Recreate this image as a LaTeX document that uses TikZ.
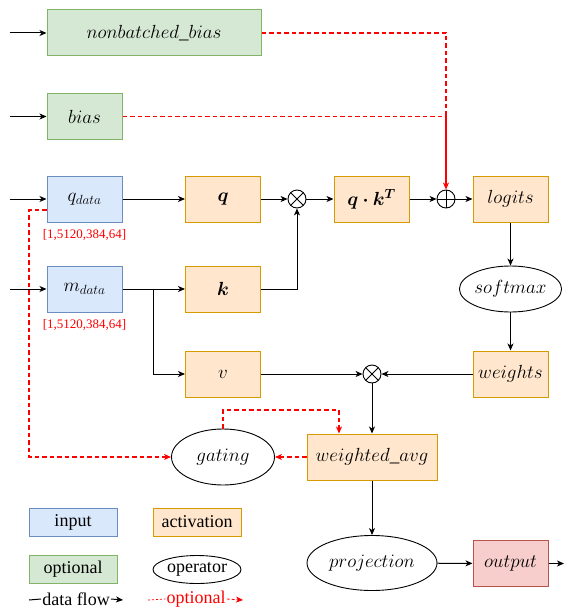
\RequirePackage{fix-cm}
\documentclass[tikz,border=0pt]{standalone}
\usepackage{amsmath}
\usepackage{bm}
\usepackage{fontspec}
\setmainfont{Liberation Serif}
\usepackage{tikz}
\usetikzlibrary{arrows,arrows.meta,positioning,calc,shapes}
\definecolor{inputfill}{HTML}{DAE8FC}
\definecolor{inputdraw}{HTML}{6C8EBF}
\definecolor{actfill}{HTML}{FFE6CC}
\definecolor{actdraw}{HTML}{D79B00}
\definecolor{optfill}{HTML}{D5E8D4}
\definecolor{optdraw}{HTML}{82B366}
\definecolor{outfill}{HTML}{F8CECC}
\definecolor{outdraw}{HTML}{B85450}

\begin{document}
\begin{tikzpicture}[x=1pt,y=-1pt,>={Stealth[length=7pt,width=6pt,inset=2pt]},
	box/.style={draw,rectangle,minimum width=75pt,minimum height=46pt,inner sep=0pt,line width=1pt,font=\fontsize{19}{23}\selectfont},
	inbox/.style={box,draw=inputdraw,fill=inputfill},
	actbox/.style={box,draw=actdraw,fill=actfill},
	optbox/.style={box,draw=optdraw,fill=optfill},
	outbox/.style={box,draw=outdraw,fill=outfill},
	opnode/.style={draw,ellipse,minimum width=100pt,minimum height=46pt,inner sep=0pt,line width=0.9pt,font=\fontsize{19}{23}\selectfont},
	mulop/.style={draw,circle,minimum size=18pt,inner sep=0pt,line width=0.9pt,path picture={\draw (path picture bounding box.north west) -- (path picture bounding box.south east) (path picture bounding box.north east) -- (path picture bounding box.south west);}},
	addop/.style={draw,circle,minimum size=18pt,inner sep=0pt,line width=0.9pt,path picture={\draw (path picture bounding box.north) -- (path picture bounding box.south) (path picture bounding box.east) -- (path picture bounding box.west);}},
	flow/.style={->,line width=1pt},
	opt/.style={->,red,line width=1.3pt,dash pattern=on 4.5pt off 3pt},
	optline/.style={red,line width=1.3pt,dash pattern=on 4.5pt off 3pt},
	dimlabel/.style={red,inner sep=1pt,font=\fontsize{13}{15}\selectfont},
	legend/.style={minimum width=88pt,minimum height=28pt,font=\fontsize{18}{21}\selectfont}]
	\useasboundingbox (0,0) rectangle (565,610);

	\node[optbox,minimum width=214pt] (nbias) at (154,33) {$nonbatched\_bias$};
	\node[optbox] (bias) at (84.5,116.5) {$bias$};
	\node[inbox] (qdata) at (84.5,199) {$q_{data}$};
	\node[dimlabel,below=6pt of qdata] (qdim) {[1,5120,384,64]};
	\node[inbox] (mdata) at (84.5,289) {$m_{data}$};
	\node[dimlabel,below=6pt of mdata] (mdim) {[1,5120,384,64]};
	\foreach \n in {nbias,bias,qdata,mdata} {
		\coordinate[left=37pt of \n.west] (src-\n);
		\draw[flow] (src-\n) -- (\n);
	}

	\node[actbox] (q) at (223,199) {$\bm{q}$};
	\node[actbox] (k) at (223,289) {$\bm{k}$};
	\node[actbox] (v) at (223,374) {$v$};
	\node[mulop] (mul1) at (297,199) {};
	\node[actbox] (qk) at (371.5,199) {$\bm{q\cdot k^T}$};
	\node[addop] (add) at (446,199) {};
	\node[actbox] (logits) at (510.5,199) {$logits$};
	\node[opnode] (softmax) at (510.5,289) {$softmax$};
	\node[actbox] (weights) at (510.5,374) {$weights$};
	\node[mulop] (mul2) at (372,374) {};
	\node[actbox,minimum width=130pt] (wavg) at (372,457) {$weighted\_avg$};
	\node[opnode,minimum width=103pt,minimum height=56pt] (gating) at (223,457) {$gating$};
	\node[opnode,minimum width=130pt,minimum height=55pt] (proj) at (372,563) {$projection$};
	\node[outbox] (output) at (510.5,563.5) {$output$};
	\coordinate (sink) at (564,563.5);

	\draw[flow] (qdata) -- (q);
	\draw[flow] (q) -- (mul1);
	\draw[flow] (mdata) -- (k);
	\coordinate (split) at ($(mdata.east)!0.5!(k.west)$);
	\draw[flow] (split) |- (v);
	\draw[flow] (k) -| (mul1);
	\draw[flow] (mul1) -- (qk);
	\draw[flow] (qk) -- (add);
	\draw[flow] (add) -- (logits);
	\draw[flow] (logits) -- (softmax);
	\draw[flow] (softmax) -- (weights);
	\draw[flow] (weights) -- (mul2);
	\draw[flow] (v) -- (mul2);
	\draw[flow] (mul2) -- (wavg);
	\draw[flow] (wavg) -- (proj);
	\draw[flow] (proj) -- (output);
	\draw[flow] (output) -- (sink);

	\draw[optline] (bias) -| (add);
	\draw[opt] (nbias) -| (add);
	\coordinate (qtap) at ([yshift=-11pt]qdata.west);
	\coordinate (gbend) at (29,210);
	\draw[opt] (qtap) -- (gbend) |- (gating);
	\coordinate (gturn) at (339,410);
	\draw[opt] (gating.north) |- (gturn) -- (gturn |- wavg.north);
	\draw[opt] (wavg) -- (gating);

	\node[inbox,legend] (lgin) at (73,522) {input};
	\node[actbox,legend] (lgact) at (197,522) {activation};
	\node[optbox,legend] (lgopt) at (73,569) {optional};
	\node[opnode,legend] (lgop) at (197,569.5) {operator};
	\node[inner sep=1pt,font=\fontsize{18}{21}\selectfont] (lgflow) at (76,599) {data flow};
	\coordinate (lgflowa) at (29,600);
	\coordinate (lgflowb) at (123,600);
	\draw[line width=1pt] (lgflowa) -- (lgflow.west);
	\draw[flow] (lgflow.east) -- (lgflowb);
	\node[red,inner sep=1pt,font=\fontsize{18}{21}\selectfont] (lgoptl) at (196,599) {optional};
	\coordinate (lgopta) at (148,600);
	\coordinate (lgoptb) at (243,600);
	\draw[red,line width=0.8pt,dash pattern=on 2pt off 2pt] (lgopta) -- (lgoptl.west);
	\draw[->,red,line width=0.8pt,dash pattern=on 3pt off 2pt] (lgoptl.east) -- (lgoptb);
\end{tikzpicture}
\end{document}
